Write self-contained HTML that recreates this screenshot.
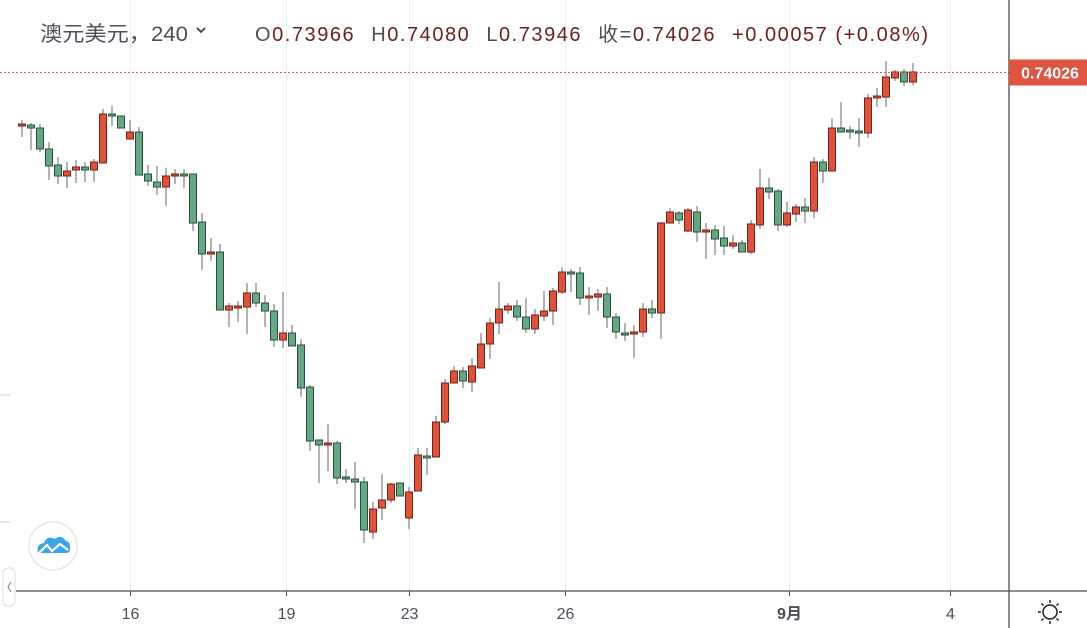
<!DOCTYPE html>
<html><head><meta charset="utf-8">
<style>
html,body{margin:0;padding:0;background:#fff;}
body{width:1087px;height:628px;overflow:hidden;position:relative;font-family:"Liberation Sans","Noto Sans CJK SC",sans-serif;}
svg{position:absolute;left:0;top:0;}
</style></head>
<body>
<svg id="chart" width="1087" height="628" viewBox="0 0 1087 628" xmlns="http://www.w3.org/2000/svg">
  <g id="grid"></g>
  <g id="candles"></g>
  <line id="lastLine" x1="0" x2="1009" stroke="#e0574a" stroke-width="1" stroke-dasharray="2,2"/>
  <line x1="16" y1="591" x2="1087" y2="591" stroke="#4a4e58" stroke-width="1.3"/>
  <line x1="1009" y1="0" x2="1009" y2="628" stroke="#4a4e58" stroke-width="1.3"/>
  <g id="xticks"></g>
  <g id="plabel">
    <rect id="plRect" x="1009" width="78" height="26" fill="#dd5441"/>
    <text id="plText" x="1050" fill="#fff" font-size="16" font-weight="bold" text-anchor="middle">0.74026</text>
  </g>
  <text x="40" y="41" font-size="21" fill="#4a4f5a" textLength="148" lengthAdjust="spacingAndGlyphs" font-family="Liberation Sans, Noto Sans CJK SC, sans-serif">澳元美元，240</text>
  <path d="M197 28 l4 4 l4 -4" fill="none" stroke="#333" stroke-width="1.6"/>
  <text x="255" y="41" font-size="20" textLength="673" lengthAdjust="spacing" font-family="Liberation Sans, Noto Sans CJK SC, sans-serif"><tspan fill="#4a4f5a">O</tspan><tspan fill="#6b2020">0.73966</tspan><tspan fill="#4a4f5a" dx="16">H</tspan><tspan fill="#6b2020">0.74080</tspan><tspan fill="#4a4f5a" dx="16">L</tspan><tspan fill="#6b2020">0.73946</tspan><tspan fill="#4a4f5a" dx="16">收=</tspan><tspan fill="#6b2020">0.74026</tspan><tspan fill="#6b2020" dx="16">+0.00057 (+0.08%)</tspan></text>
  <g>
    <circle cx="53" cy="546" r="24" fill="#fff" stroke="#e6e6e6" stroke-width="1.5"/>
    <path d="M38 552 q-2 -8 6 -9 q3 -8 11 -4 q6 -5 11 2 q5 1 4 8 q0 4 -4 4 l-24 0 q-4 0 -4 -1z" fill="#3ba3e6"/>
    <path d="M39 553 l8 -8 l5 6 l8 -7 l8 6" fill="none" stroke="#fff" stroke-width="2.2"/>
  </g>
  <g>
    <rect x="3" y="568" width="12" height="38" rx="5" fill="#fff" stroke="#ddd"/>
    <path d="M11 582 l-3 5 l3 5" fill="none" stroke="#777" stroke-width="1"/>
  </g>
  <line x1="0" y1="522" x2="10" y2="522" stroke="#ccc"/>
  <line x1="0" y1="395" x2="10" y2="395" stroke="#ccc"/>
  <g transform="translate(1050,612)" fill="none" stroke="#222" stroke-width="1.5">
    <circle r="7"/>
    <path d="M0 -12 v3 M0 9 v3 M-12 0 h3 M9 0 h3 M-8.5 -8.5 l2 2 M6.5 6.5 l2 2 M-8.5 8.5 l2 -2 M6.5 -6.5 l2 -2"/>
  </g>
</svg>
<script>
const opens=[0.73708,0.73708,0.73690,0.73564,0.73468,0.73402,0.73438,0.73456,0.73438,0.73480,0.73774,0.73762,0.73624,0.73666,0.73414,0.73366,0.73336,0.73408,0.73414,0.73414,0.73126,0.72934,0.72946,0.72598,0.72616,0.72616,0.72700,0.72640,0.72592,0.72418,0.72460,0.72388,0.72136,0.71818,0.71788,0.71800,0.71596,0.71584,0.71566,0.71266,0.71410,0.71458,0.71560,0.71350,0.71512,0.71722,0.71716,0.71926,0.72160,0.72232,0.72166,0.72250,0.72394,0.72520,0.72598,0.72622,0.72556,0.72484,0.72562,0.72592,0.72706,0.72826,0.72820,0.72670,0.72676,0.72694,0.72556,0.72460,0.72454,0.72466,0.72604,0.72580,0.73120,0.73180,0.73072,0.73186,0.73066,0.73078,0.73030,0.72982,0.73000,0.72946,0.73108,0.73330,0.73312,0.73108,0.73174,0.73216,0.73192,0.73486,0.73432,0.73690,0.73678,0.73672,0.73660,0.73870,0.73876,0.73990,0.74026,0.73966];
const highs=[0.73738,0.73720,0.73714,0.73606,0.73516,0.73486,0.73498,0.73486,0.73504,0.73804,0.73822,0.73762,0.73738,0.73696,0.73468,0.73462,0.73450,0.73444,0.73444,0.73414,0.73180,0.73030,0.72994,0.72640,0.72652,0.72760,0.72760,0.72688,0.72634,0.72706,0.72508,0.72424,0.72148,0.71818,0.71914,0.71812,0.71644,0.71686,0.71596,0.71446,0.71614,0.71560,0.71560,0.71536,0.71770,0.71770,0.71962,0.72184,0.72262,0.72256,0.72310,0.72460,0.72550,0.72766,0.72640,0.72658,0.72670,0.72604,0.72712,0.72730,0.72856,0.72844,0.72856,0.72736,0.72724,0.72736,0.72580,0.72520,0.72508,0.72640,0.72658,0.73126,0.73210,0.73192,0.73210,0.73222,0.73120,0.73108,0.73102,0.73048,0.73018,0.73138,0.73444,0.73390,0.73324,0.73246,0.73234,0.73270,0.73516,0.73504,0.73750,0.73846,0.73702,0.73750,0.73894,0.73930,0.74092,0.74038,0.74044,0.74080];
const lows=[0.73636,0.73558,0.73546,0.73378,0.73354,0.73330,0.73360,0.73366,0.73366,0.73480,0.73702,0.73690,0.73624,0.73408,0.73342,0.73288,0.73222,0.73354,0.73330,0.73072,0.72838,0.72892,0.72598,0.72496,0.72526,0.72454,0.72616,0.72496,0.72376,0.72370,0.72382,0.72076,0.71752,0.71560,0.71632,0.71554,0.71560,0.71404,0.71200,0.71224,0.71338,0.71440,0.71482,0.71284,0.71512,0.71608,0.71716,0.71914,0.72160,0.72130,0.72106,0.72250,0.72304,0.72454,0.72574,0.72532,0.72460,0.72454,0.72532,0.72508,0.72694,0.72706,0.72628,0.72568,0.72592,0.72490,0.72424,0.72412,0.72310,0.72436,0.72550,0.72424,0.73120,0.73114,0.73066,0.73006,0.72904,0.72928,0.72928,0.72964,0.72946,0.72934,0.73084,0.73264,0.73072,0.73096,0.73126,0.73120,0.73150,0.73360,0.73432,0.73666,0.73624,0.73576,0.73630,0.73816,0.73816,0.73972,0.73942,0.73946];
const closes=[0.73714,0.73690,0.73564,0.73462,0.73402,0.73432,0.73456,0.73438,0.73486,0.73774,0.73762,0.73690,0.73666,0.73408,0.73372,0.73336,0.73402,0.73414,0.73408,0.73120,0.72934,0.72946,0.72598,0.72622,0.72622,0.72700,0.72640,0.72592,0.72418,0.72460,0.72382,0.72130,0.71812,0.71788,0.71800,0.71590,0.71584,0.71566,0.71278,0.71404,0.71458,0.71554,0.71482,0.71506,0.71728,0.71716,0.71926,0.72160,0.72232,0.72172,0.72262,0.72394,0.72520,0.72604,0.72622,0.72556,0.72484,0.72568,0.72592,0.72712,0.72826,0.72814,0.72670,0.72682,0.72694,0.72556,0.72466,0.72454,0.72466,0.72604,0.72580,0.73120,0.73186,0.73138,0.73198,0.73066,0.73078,0.73024,0.72982,0.73000,0.72946,0.73114,0.73330,0.73306,0.73108,0.73180,0.73216,0.73192,0.73486,0.73432,0.73690,0.73666,0.73666,0.73660,0.73870,0.73882,0.73996,0.74026,0.73966,0.74026];
const tickLabels=["16","19","23","26","9月","4"];
const tickIndex=[12,29.3,43,60.3,85.2,103.1];
const lastPrice=0.74026;

const NS="http://www.w3.org/2000/svg";
function xScale(i){return 22+i*9;}
function yScale(p){return 72+(lastPrice-p)/0.00006;}
function mk(tag,attrs,parent){const e=document.createElementNS(NS,tag);for(const k in attrs)e.setAttribute(k,attrs[k]);parent.appendChild(e);return e;}

const grid=document.getElementById('grid'), xt=document.getElementById('xticks'), cg=document.getElementById('candles');
tickLabels.forEach((lab,j)=>{
  const x=Math.round(xScale(tickIndex[j]))+0.5;
  const gl=mk('line',{x1:x,x2:x,y1:0,y2:591,stroke:'#e6eef6','stroke-width':1},grid);
  
  
  const tk=mk('line',{x1:x,x2:x,y1:591,y2:596,stroke:'#4a4e58'},xt);
  
  
  const t=mk('text',{x:x,y:619,'text-anchor':'middle','font-size':16,fill:'#4a4f5a','font-weight':lab==='9月'?'bold':'normal'},xt);
  t.textContent=lab;
  
  
});
for(let i=0;i<opens.length;i++){
  const x=xScale(i), up=closes[i]>=opens[i];
  const g=mk('g',{},cg);
  
  
  mk('line',{x1:x,x2:x,y1:yScale(highs[i]),y2:yScale(lows[i]),stroke:'#8a8a8a','stroke-width':1.3},g);
  const top=Math.min(yScale(opens[i]),yScale(closes[i])), h=Math.max(2,Math.abs(yScale(opens[i])-yScale(closes[i])));
  mk('rect',{x:x-3.5,y:top,width:7,height:h,fill:up?'#d9533f':'#69a683',stroke:up?'#7a1e16':'#24503a','stroke-width':1},g);
}
const ly=Math.round(yScale(lastPrice))+0.5;
const ll=document.getElementById('lastLine'); ll.setAttribute('y1',ly); ll.setAttribute('y2',ly);
document.getElementById('plRect').setAttribute('y',ly-13);
document.getElementById('plText').setAttribute('y',ly+6);
</script>
</body></html>
